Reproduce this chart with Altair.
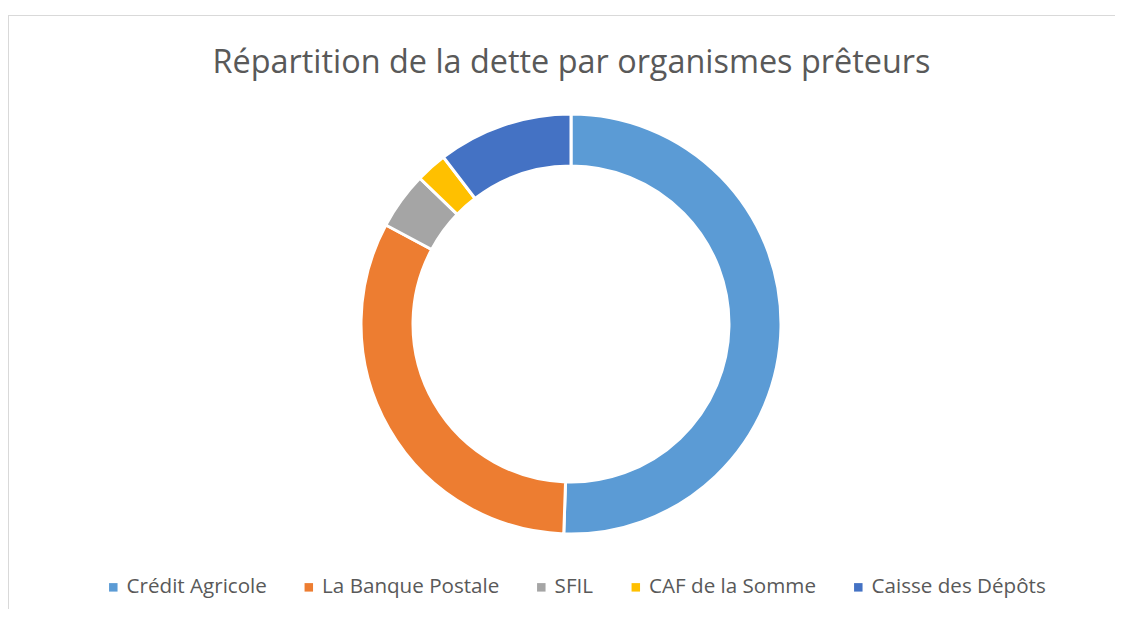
import altair as alt
import pandas as pd

categories = ["Crédit Agricole", "La Banque Postale", "SFIL", "CAF de la Somme", "Caisse des Dépôts"]
values = [50.6, 32.3, 4.4, 2.4, 10.4]
colors = ["#5B9BD5", "#ED7D31", "#A5A5A5", "#FFC000", "#4472C4"]
title_text = "Répartition de la dette par organismes prêteurs"

df = pd.DataFrame({"organisme": categories, "part": values, "idx": list(range(len(categories)))})

W, H = 1107, 601
FONT = "Open Sans"

donut = alt.Chart(df).mark_arc(
    radius=210, radius2=158, stroke="white", strokeWidth=3
).encode(
    theta=alt.Theta("part:Q", stack=True),
    order=alt.Order("idx:Q"),
    color=alt.Color(
        "organisme:N",
        scale=alt.Scale(domain=categories, range=colors),
        legend=alt.Legend(
            title=None, orient="none", direction="horizontal",
            legendX=95, legendY=569, columns=5,
            symbolType="square", symbolSize=72, symbolStrokeWidth=0,
            labelFont=FONT, labelFontSize=20.6, labelColor="#595959",
            labelOffset=3, columnPadding=31.5, padding=0, labelLimit=400,
        ),
    ),
    x=alt.value(563),
    y=alt.value(316),
)

frame_top = alt.Chart(df).mark_rule(color="#D9D9D9", strokeWidth=1).encode(
    x=alt.value(0), x2=alt.value(W), y=alt.value(7.5), y2=alt.value(7.5)
)
frame_left = alt.Chart(df).mark_rule(color="#D9D9D9", strokeWidth=1).encode(
    x=alt.value(0.5), x2=alt.value(0.5), y=alt.value(7), y2=alt.value(H)
)

chart = alt.layer(frame_top, frame_left, donut).properties(
    width=W, height=H, padding=0,
    autosize=alt.AutoSizeParams(type="none"),
    title=alt.TitleParams(
        title_text, font=FONT, fontSize=32.4, fontWeight="normal", color="#595959",
        anchor="middle", dy=75, dx=10,
    ),
).configure_view(stroke=None)

chart.save("out.html", embed_options={"renderer": "svg", "actions": False})
